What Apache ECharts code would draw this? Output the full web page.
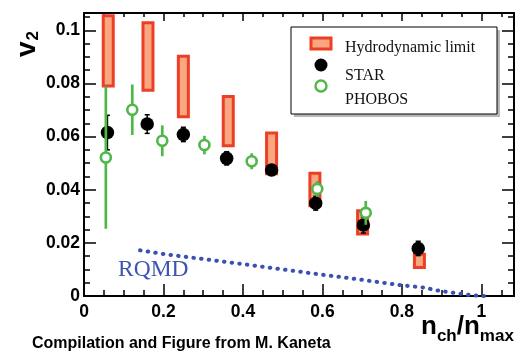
<!DOCTYPE html>
<html>
<head>
<meta charset="utf-8">
<script src="https://cdn.jsdelivr.net/npm/echarts@6/dist/echarts.min.js"></script>
<style>
html,body{margin:0;padding:0;background:#fff;}
#c{width:529px;height:354px;}
</style>
</head>
<body>
<div id="c"></div>
<script>
// ---- data ----
const hydroX  = [0.061, 0.161, 0.250, 0.363, 0.472, 0.581, 0.701, 0.844];
const hydroLo = [0.0790, 0.0774, 0.0675, 0.0565, 0.0460, 0.0340, 0.0233, 0.0107];
const hydroHi = [0.1055, 0.1028, 0.0902, 0.0751, 0.0613, 0.0462, 0.0321, 0.0157];

const starX   = [0.059, 0.159, 0.250, 0.359, 0.472, 0.583, 0.703, 0.841];
const starY   = [0.0615, 0.0647, 0.0608, 0.0518, 0.0474, 0.0349, 0.0267, 0.0179];
const starErr = [0.0065, 0.0035, 0.0027, 0.0025, 0.0015, 0.0026, 0.0030, 0.0027];

const phobosX   = [0.055, 0.1215, 0.197, 0.303, 0.422, 0.587, 0.709];
const phobosY   = [0.0521, 0.0701, 0.0584, 0.0568, 0.0507, 0.0403, 0.0313];
const phobosErr = [0.0268, 0.0095, 0.0058, 0.0035, 0.0030, 0.0030, 0.0045];

const rqmdX = [0.141, 0.200, 0.300, 0.400, 0.460, 0.600, 0.694, 0.795, 0.854, 0.896, 0.946, 0.979, 1.010];
const rqmdY = [0.0172, 0.0158, 0.0139, 0.0120, 0.0108, 0.0080, 0.0062, 0.0041, 0.0032, 0.0019, 0.0009, 0.0002, 0.0000];

const xMin = 0, xMax = 1.082, xMajor = 0.2, xMinor = 0.05;
const yMin = 0, yMax = 0.1065, yMajor = 0.02, yMinor = 0.005;

// ---- styles ----
const RED = '#ec3f25', PEACH = '#f8a781', GREEN = '#4fb848', BLUE = '#3b50b3';
const SANS = '"Liberation Sans", Arial, Helvetica, sans-serif';
const SERIF = '"Liberation Serif", "Times New Roman", serif';

const chart = echarts.init(document.getElementById('c'), null, {renderer: 'canvas'});

function tickAxis(pos, interval, len, showLine, showLabel, isX) {
  const a = {
    type: 'value', position: pos, min: isX ? xMin : yMin, max: isX ? xMax : yMax,
    interval: interval,
    axisLine: {show: showLine, onZero: false, lineStyle: {color: '#000', width: 2}},
    axisTick: {show: true, inside: true, length: len, lineStyle: {color: '#000', width: 1.5}},
    axisLabel: {show: false},
    splitLine: {show: false},
    minorTick: {show: false}
  };
  if (showLabel) {
    a.axisLabel = {
      show: true, showMaxLabel: false, color: '#000',
      fontFamily: SANS, fontWeight: 'bold', fontSize: 17.5,
      margin: isX ? 7 : 4
    };
  }
  return a;
}

const rich = {
  n: {fontFamily: SANS, fontWeight: 'bold', fontSize: 26, color: '#000', lineHeight: 26, verticalAlign: 'top'},
  s: {fontFamily: SANS, fontWeight: 'bold', fontSize: 17, color: '#000', lineHeight: 17, verticalAlign: 'top', padding: [14, 0, 0, 0]}
};

const option = {
  animation: false,
  backgroundColor: '#fff',
  grid: {left: 84, right: 15, top: 13, bottom: 58, containLabel: false},
  xAxis: [
    tickAxis('bottom', xMajor, 12, true, true, true),
    tickAxis('bottom', xMinor, 6, false, false, true),
    tickAxis('top', xMajor, 8, true, false, true),
    tickAxis('top', xMinor, 4, false, false, true)
  ],
  yAxis: [
    tickAxis('left', yMajor, 12, true, true, false),
    tickAxis('left', yMinor, 6, false, false, false),
    tickAxis('right', yMajor, 12, true, false, false),
    tickAxis('right', yMinor, 6, false, false, false)
  ],
  series: [
    {
      name: 'Hydrodynamic limit', type: 'custom', z: 2,
      data: hydroX.map((x, i) => [x, hydroLo[i], hydroHi[i]]),
      renderItem: function (params, api) {
        const top = api.coord([api.value(0), api.value(2)]);
        const bot = api.coord([api.value(0), api.value(1)]);
        return {
          type: 'rect',
          shape: {x: top[0] - 5, y: top[1], width: 10, height: bot[1] - top[1]},
          style: {fill: PEACH, stroke: RED, lineWidth: 3}
        };
      }
    },
    {
      name: 'RQMD', type: 'line', z: 3, showSymbol: false, symbol: 'none',
      data: rqmdX.map((x, i) => [x, rqmdY[i]]),
      lineStyle: {color: BLUE, width: 4, type: [0.5, 7.2], cap: 'round'}
    },
    {
      name: 'STAR err', type: 'custom', z: 4,
      data: starX.map((x, i) => [x, starY[i] - starErr[i], starY[i] + starErr[i]]),
      renderItem: function (params, api) {
        const top = api.coord([api.value(0), api.value(2)]);
        const bot = api.coord([api.value(0), api.value(1)]);
        const st = {stroke: '#000', lineWidth: 1.5};
        return {type: 'group', children: [
          {type: 'line', shape: {x1: top[0], y1: top[1], x2: bot[0], y2: bot[1]}, style: st},
          {type: 'line', shape: {x1: top[0] - 2.5, y1: top[1], x2: top[0] + 2.5, y2: top[1]}, style: st},
          {type: 'line', shape: {x1: bot[0] - 2.5, y1: bot[1], x2: bot[0] + 2.5, y2: bot[1]}, style: st}
        ]};
      }
    },
    {
      name: 'STAR', type: 'scatter', z: 5, symbol: 'circle', symbolSize: 13.5,
      data: starX.map((x, i) => [x, starY[i]]),
      itemStyle: {color: '#000', opacity: 1}
    },
    {
      name: 'PHOBOS err', type: 'custom', z: 6,
      data: phobosX.map((x, i) => [x, phobosY[i] - phobosErr[i], phobosY[i] + phobosErr[i]]),
      renderItem: function (params, api) {
        const top = api.coord([api.value(0), api.value(2)]);
        const bot = api.coord([api.value(0), api.value(1)]);
        return {type: 'line', shape: {x1: top[0], y1: top[1], x2: bot[0], y2: bot[1]},
          style: {stroke: GREEN, lineWidth: 2.7}};
      }
    },
    {
      name: 'PHOBOS', type: 'scatter', z: 7, symbol: 'circle', symbolSize: 10,
      data: phobosX.map((x, i) => [x, phobosY[i]]),
      itemStyle: {color: '#fff', borderColor: GREEN, borderWidth: 2.6, opacity: 1}
    }
  ],
  graphic: [
    // y axis title v2 (rotated)
    {type: 'text', x: 27, y: 44, rotation: Math.PI / 2, z: 10,
      style: {text: '{v|v}{t|2}', textAlign: 'center', textVerticalAlign: 'middle',
        rich: {
          v: {fontFamily: SANS, fontWeight: 'bold', fontSize: 28, color: '#000', lineHeight: 28, verticalAlign: 'top'},
          t: {fontFamily: SANS, fontWeight: 'bold', fontSize: 17, color: '#000', lineHeight: 17, verticalAlign: 'top', padding: [12, 0, 0, 1]}
        }}},
    // x axis title
    {type: 'text', left: 421, top: 314, z: 10,
      style: {text: '{n|n}{s|ch}{n|/n}{s|max}', rich: rich}},
    // RQMD label
    {type: 'text', left: 118, top: 258, z: 10,
      style: {text: 'RQMD', fontFamily: SERIF, fontSize: 23.5, fill: '#3d55b0'}},
    // footer
    {type: 'text', left: 32, top: 336, z: 10,
      style: {text: 'Compilation and Figure from M. Kaneta', fontFamily: SANS, fontWeight: 'bold', fontSize: 16, fill: '#000'}},
    // legend
    {type: 'group', z: 20, children: [
      {type: 'rect', shape: {x: 294, y: 30, width: 206, height: 87}, style: {fill: '#b8b8b8'}},
      {type: 'rect', shape: {x: 291, y: 27, width: 206, height: 87}, style: {fill: '#fff', stroke: '#000', lineWidth: 1}},
      {type: 'rect', shape: {x: 311, y: 38, width: 20, height: 11}, style: {fill: PEACH, stroke: RED, lineWidth: 3}},
      {type: 'text', x: 345, y: 48, style: {text: 'Hydrodynamic limit', fontFamily: SERIF, fontSize: 16, fill: '#111', textVerticalAlign: 'middle'}},
      {type: 'circle', shape: {cx: 321, cy: 65, r: 6.5}, style: {fill: '#000'}},
      {type: 'text', x: 345, y: 76, style: {text: 'STAR', fontFamily: SERIF, fontSize: 16, fill: '#111', textVerticalAlign: 'middle'}},
      {type: 'circle', shape: {cx: 321, cy: 86, r: 5.5}, style: {fill: '#fff', stroke: GREEN, lineWidth: 2.4}},
      {type: 'text', x: 345, y: 100, style: {text: 'PHOBOS', fontFamily: SERIF, fontSize: 16, fill: '#111', textVerticalAlign: 'middle'}}
    ]}
  ]
};
chart.setOption(option);
</script>
</body>
</html>
